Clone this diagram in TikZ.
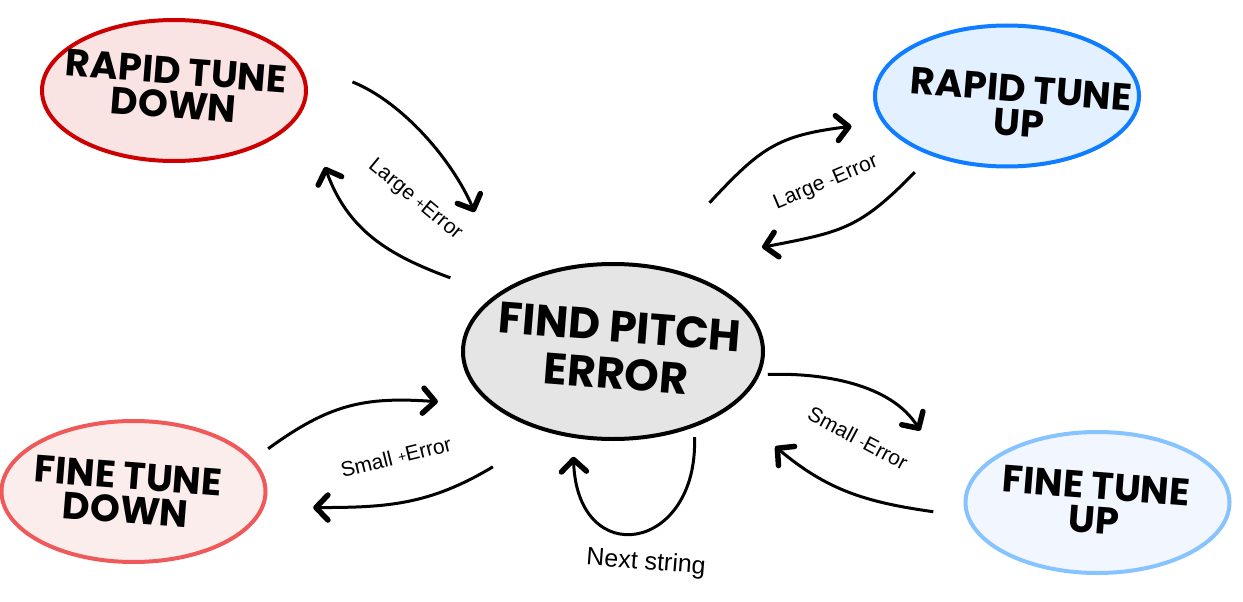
\documentclass[tikz,border=0pt]{standalone}
\usepackage{fontspec}
\setmainfont{Liberation Sans}
\newfontfamily\statefont{Poppins}
\usetikzlibrary{arrows.meta, shapes.geometric}

\definecolor{fillrtd}{rgb}{0.98, 0.89, 0.89}
\definecolor{linertd}{rgb}{0.80, 0.0, 0.0}
\definecolor{fillrtu}{rgb}{0.89, 0.94, 1.0}
\definecolor{linertu}{rgb}{0.06, 0.49, 1.0}
\definecolor{fillfind}{rgb}{0.90, 0.90, 0.90}
\definecolor{fillftd}{rgb}{0.99, 0.93, 0.93}
\definecolor{lineftd}{rgb}{0.94, 0.35, 0.35}
\definecolor{fillftu}{rgb}{0.95, 0.97, 1.0}
\definecolor{lineftu}{rgb}{0.53, 0.77, 1.0}

\tikzset{
    state/.style = {ellipse, draw, line width = 4pt, inner sep = 0pt, minimum width = 264pt, minimum height = 141pt},
    statetext/.style = {font = \statefont\bfseries\fontsize{38}{34}\selectfont, align = center, rotate = -4.5, inner sep = 0pt},
    flow/.style = {line width = 3pt, -{Straight Barb[length = 12pt, width = 25pt, line width = 5.5pt, round]}},
    edgelabel/.style = {font = \fontsize{21}{21}\selectfont, inner sep = 0pt}
}
\newcommand{\sgn}[1]{\raisebox{1pt}{\fontsize{14}{14}\selectfont #1}}

\begin{document}
\begin{tikzpicture}[x = 1pt, y = 1pt]
    \useasboundingbox (0, 0) rectangle (1243, -602);

    \node (find) [state, fill = fillfind, minimum width = 300pt, minimum height = 175pt] at (613, -351.5) {};
    \node (findtext) [statetext, font = \statefont\bfseries\fontsize{44}{47}\selectfont] at (618, -350) {FIND PITCH\\ERROR};

    \foreach \nm/\x/\y/\tx/\ty/\col/\lbl in {
        rtd/174/-90.5/175/-88/rtd/{RAPID TUNE\\DOWN},
        rtu/1007/-96/1020/-106/rtu/{RAPID TUNE\\UP},
        ftd/133.5/-491.5/127/-493/ftd/{FINE TUNE\\DOWN},
        ftu/1097.5/-502.5/1095/-503/ftu/{FINE TUNE\\UP}}
    {
        \node (\nm) [state, fill = fill\col, draw = line\col] at (\x, \y) {};
        \node (\nm text) [statetext] at (\tx, \ty) {\lbl};
    }

    \draw [flow, shorten <= 48.5pt, shorten >= 62pt] (find.154) to [out = 160, in = -70, out distance = 115pt, in distance = 129pt] (rtd.-8);
    \draw [flow, shorten <= 63pt, shorten >= 82pt] (rtd.15) to [out = -22, in = 113, out distance = 118pt, in distance = 137pt] (find.149);
    \node (lgplus) [edgelabel, rotate = -39.5] at (415, -200) {Large \sgn{+}Error};

    \draw [flow, shorten <= 85pt, shorten >= 31pt] (find.66) to [out = 47, in = 187, out distance = 160pt, in distance = 106pt] (rtu.-168);
    \draw [flow, shorten <= 23pt, shorten >= 102pt] (rtu.-142) to [out = -134, in = 11, out distance = 103pt, in distance = 182pt] (find.60);
    \node (lgminus) [edgelabel, rotate = 23] at (826, -183) {Large \sgn{-}Error};

    \draw [flow, shorten <= 18pt, shorten >= 54pt] (ftd.15) to [out = 36, in = 176, out distance = 93pt, in distance = 129pt] (find.204);
    \draw [flow, shorten <= 66pt, shorten >= 49pt] (find.-128) to [out = -149, in = 0, out distance = 140pt, in distance = 123pt] (ftd.-7);
    \node (smplus) [edgelabel, rotate = 14] at (396, -457) {Small \sgn{+}Error};

    \draw [flow, shorten <= 8pt, shorten >= 82pt] (find.-9) to [out = 2, in = 122, out distance = 63pt, in distance = 137pt] (ftu.179);
    \draw [flow, shorten <= 33pt, shorten >= 59pt] (ftu.186) to [out = 172, in = -40, out distance = 101pt, in distance = 127pt] (find.-26);
    \node (smminus) [edgelabel, rotate = -28] at (858, -438) {Small \sgn{-}Error};

    \draw [flow, shorten <= 10pt, shorten >= 19pt] (find.-43) to [out = -88, in = -88, out distance = 125pt, in distance = 134pt] (find.245);
    \node (next) [edgelabel, font = \fontsize{25}{25}\selectfont, rotate = -4.5] at (646, -563) {Next string};
\end{tikzpicture}
\end{document}
